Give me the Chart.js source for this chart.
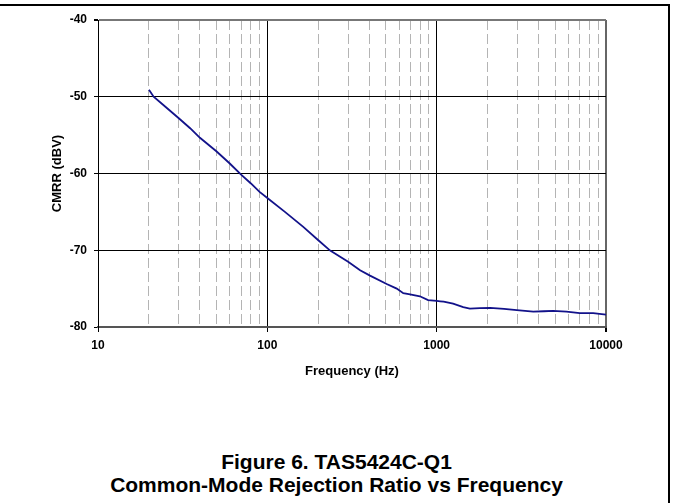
<!DOCTYPE html>
<html>
<head>
<meta charset="utf-8">
<script src="https://cdn.jsdelivr.net/npm/chart.js@4.4.1/dist/chart.umd.min.js"></script>
<style>
  html, body { margin: 0; padding: 0; background: #fff; }
  body { width: 673px; height: 503px; position: relative; overflow: hidden;
         font-family: "Liberation Sans", Arial, sans-serif; }
  #frame { position: absolute; left: -4px; top: 4px; width: 672px; height: 520px;
           border-top: 2px solid #000; border-right: 2px solid #000; }
  #wrap { position: absolute; left: 0; top: 0; width: 673px; height: 390px; }
  .cap { position: absolute; left: 0; width: 673px; text-align: center;
         font-weight: bold; font-size: 21px; color: #000; }
</style>
</head>
<body>
<div id="frame"></div>
<div id="wrap"><canvas id="chartCmrr"></canvas></div>
<div class="cap" style="top:450px">Figure 6. TAS5424C-Q1</div>
<div class="cap" style="top:473px">Common-Mode Rejection Ratio vs Frequency</div>
<script>
// Frequency (Hz) and CMRR (dBV)
const freqHz = [20, 21.3, 25, 30, 35, 40, 50, 60, 70, 80, 90, 100, 127, 163, 200, 235,
                300, 353, 404, 507, 581, 635, 696, 796, 890, 1000, 1050, 1100, 1250, 1435,
                1570, 1800, 2070, 2500, 2970, 3720, 4300, 4870, 5840, 7000, 8400, 10000];
const cmrrDbv = [-49.1, -50.0, -51.3, -52.8, -54.1, -55.35, -57.1, -58.7, -60.15, -61.3, -62.4, -63.2,
                 -65.0, -66.95, -68.7, -70.05, -71.5, -72.6, -73.3, -74.4, -75.0, -75.6, -75.75,
                 -76.0, -76.5, -76.6, -76.65, -76.7, -76.95, -77.4, -77.6, -77.55, -77.5, -77.65,
                 -77.8, -78.0, -77.95, -77.9, -78.0, -78.2, -78.2, -78.4];

// axis ticks / grid positions
const xGridValues = [10, 20, 30, 40, 50, 60, 70, 80, 90,
                     100, 200, 300, 400, 500, 600, 700, 800, 900,
                     1000, 2000, 3000, 4000, 5000, 6000, 7000, 8000, 9000, 10000];
const xLabelValues = [10, 100, 1000, 10000];
const yTickValues = [-40, -50, -60, -70, -80];

const FONT = '"Liberation Sans", Arial, sans-serif';
Chart.defaults.font.family = FONT;
Chart.defaults.color = '#000';

const isMajorX = (ctx) => ctx.tick && xLabelValues.includes(ctx.tick.value);

const points = freqHz.map((f, i) => ({ x: f, y: cmrrDbv[i] }));

new Chart(document.getElementById('chartCmrr'), {
    type: 'scatter',
    data: {
        datasets: [{
            data: points,
            showLine: true,
            borderColor: '#12128a',
            borderWidth: 1.8,
            pointRadius: 0,
            tension: 0
        }]
    },
    options: {
        responsive: true,
        maintainAspectRatio: false,
        animation: false,
        events: [],
        layout: { padding: { left: 0, right: 67, top: 20, bottom: 0 } },
        plugins: { legend: { display: false }, tooltip: { enabled: false } },
        scales: {
            x: {
                type: 'logarithmic',
                min: 10,
                max: 10000,
                afterBuildTicks: (axis) => {
                    axis.ticks = xGridValues.map(v => ({ value: v }));
                },
                afterFit: (axis) => { axis.height = 63; },
                ticks: {
                    autoSkip: false,
                    maxRotation: 0,
                    padding: 6,
                    font: { size: 12, weight: 'bold' },
                    callback: (v) => xLabelValues.includes(v) ? String(v) : ''
                },
                grid: {
                    color: (ctx) => {
                        if (!ctx.tick) return '#b4b4b4';
                        if (ctx.tick.value === 10000) return '#666';
                        return isMajorX(ctx) ? '#000' : '#b4b4b4';
                    },
                    lineWidth: (ctx) => ctx.tick && ctx.tick.value === 10000 ? 2 : 1,
                    tickColor: (ctx) => isMajorX(ctx) ? '#000' : 'rgba(0,0,0,0)',
                    tickLength: 5
                },
                border: {
                    display: true,
                    color: '#555',
                    width: 2,
                    dash: (ctx) => (ctx.tick && !isMajorX(ctx)) ? [10, 4] : []
                },
                title: {
                    display: true,
                    text: 'Frequency (Hz)',
                    font: { size: 13, weight: 'bold' },
                    padding: { top: 0, bottom: 11 }
                }
            },
            y: {
                min: -80,
                max: -40,
                afterBuildTicks: (axis) => {
                    axis.ticks = yTickValues.map(v => ({ value: v }));
                },
                afterFit: (axis) => { axis.width = 98; },
                ticks: {
                    padding: 7,
                    font: { size: 12, weight: 'bold' }
                },
                grid: {
                    color: (ctx) => ctx.tick && ctx.tick.value === -40 ? '#777' : '#000',
                    lineWidth: (ctx) => ctx.tick && ctx.tick.value === -40 ? 2 : 1,
                    tickColor: '#000',
                    tickLength: 4
                },
                border: { display: true, color: '#000', width: 1 },
                title: {
                    display: true,
                    text: 'CMRR (dBV)',
                    font: { size: 13, weight: 'bold' },
                    padding: { top: 50, bottom: 0 }
                }
            }
        }
    }
});
</script>
</body>
</html>
